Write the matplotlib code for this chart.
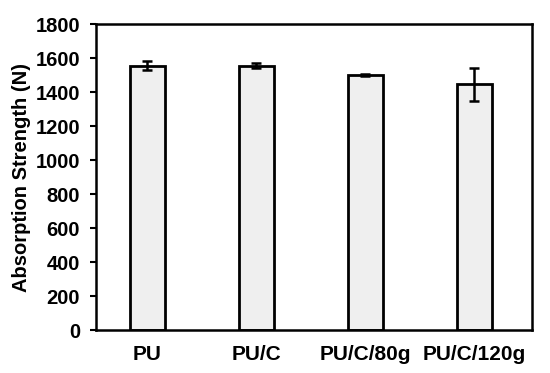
import numpy as np
import matplotlib
matplotlib.use('Agg')
from matplotlib import pyplot as plt

plt.rcParams['font.family'] = ['Liberation Sans', 'DejaVu Sans']
plt.rcParams['font.weight'] = 'bold'

samples = ['PU', 'PU/C', 'PU/C/80g', 'PU/C/120g']
strength = [1556, 1556, 1500, 1445]
strength_err = [25, 15, 8, 97]

fig = plt.figure(figsize=(5.5, 3.73), dpi=100)
ax = fig.add_axes([0.1745, 0.115, 0.7925, 0.8205])

x = np.arange(len(samples))
ax.bar(x, strength, width=0.32, color='#efefef', edgecolor='black', linewidth=2.0,
       yerr=strength_err, error_kw=dict(ecolor='black', elinewidth=1.8, capsize=3.5, capthick=1.8))

ax.set_xlim(-0.47, 3.53)
ax.set_ylim(0, 1800)
ax.set_yticks(np.arange(0, 1801, 200))
ax.set_xticks(x)
ax.set_xticklabels(samples)
ax.tick_params(axis='x', length=0, pad=11, labelsize=15)
ax.tick_params(axis='y', length=4.5, width=1.5, pad=7, labelsize=14.5)
for s in ax.spines.values():
    s.set_linewidth(1.8)
ax.set_ylabel('Absorption Strength (N)', fontsize=14.5, fontweight='bold', labelpad=3)

fig.savefig('out.png', dpi=100)
